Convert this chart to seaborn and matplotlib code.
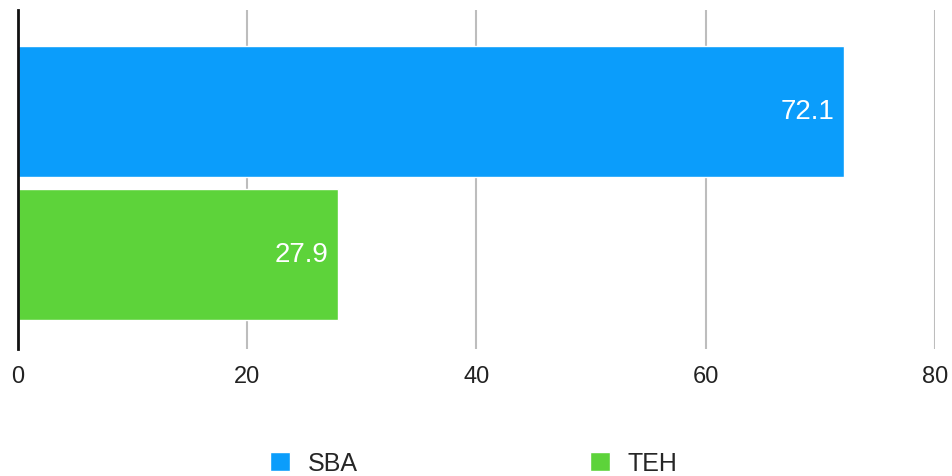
import matplotlib
matplotlib.use("Agg")
import matplotlib.pyplot as plt
import seaborn as sns
import pandas as pd

categories = ["SBA", "TEH"]
values = [72.1, 27.9]
colors = ["#0B9DFB", "#5DD33A"]
x_ticks = [0, 20, 40, 60, 80]

sns.set_theme(style="white")
plt.rcParams["font.family"] = ["Liberation Sans", "DejaVu Sans"]

df = pd.DataFrame({"group": categories, "value": values})

fig = plt.figure(figsize=(9.53, 4.76), dpi=100)
ax = fig.add_axes([0.0189, 0.267, 0.962, 0.712])

sns.barplot(data=df, x="value", y="group", hue="group", palette=colors,
            orient="h", width=0.91, ax=ax, legend=True, saturation=1)

ax.set_xlim(0, 80)
ax.set_ylim(1.66, -0.71)
ax.set_xticks(x_ticks)
ax.set_xticklabels([str(t) for t in x_ticks], fontsize=17, color="#222222")
ax.tick_params(axis="x", length=0, pad=12)
ax.set_yticks([])
ax.set_xlabel("")
ax.set_ylabel("")

for t in x_ticks[1:]:
    ax.axvline(t, color="#BDBDBD", linewidth=1.5, zorder=0)

for s in ["top", "right", "bottom"]:
    ax.spines[s].set_visible(False)
ax.spines["left"].set_color("#111111")
ax.spines["left"].set_linewidth(2)

# value labels, right-aligned just inside the end of each bar
for i, v in enumerate(values):
    ax.annotate(f"{v:.1f}", xy=(v, i), xytext=(-7, 0),
                textcoords="offset points", ha="right", va="center",
                color="white", fontsize=20)

handles, labels = ax.get_legend_handles_labels()
ax.get_legend().remove()
fig.legend(handles, labels, loc="center", bbox_to_anchor=(0.497, 0.026),
           ncol=2, frameon=False, fontsize=18, handlelength=0.8,
           handleheight=0.8, handletextpad=0.7, columnspacing=9.3)

fig.savefig("out.png", dpi=100)
